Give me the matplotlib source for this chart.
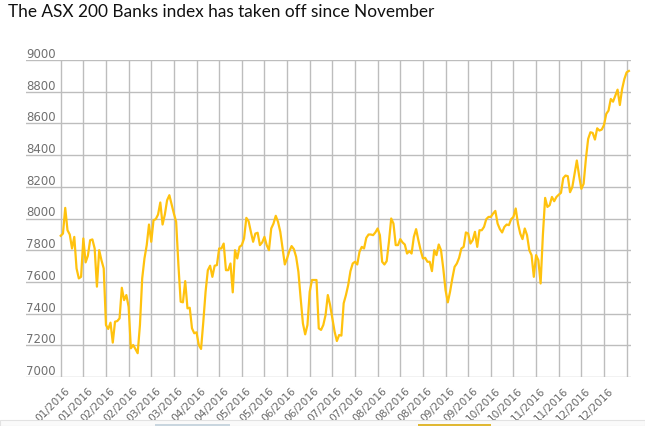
import numpy as np
import matplotlib.pyplot as plt
from matplotlib.transforms import offset_copy
from matplotlib.patches import Rectangle

# ASX 200 Banks index, daily closes 2016
close_jan_apr = [7891, 7905, 8067, 7926, 7899, 7811, 7884, 7685, 7622, 7632,
                 7874, 7723, 7765, 7863, 7868, 7811, 7570, 7800, 7737, 7685,
                 7328, 7303, 7343, 7217, 7349, 7353, 7370, 7563, 7485, 7517,
                 7443, 7181, 7202, 7177, 7150, 7328, 7622, 7748, 7832, 7962,
                 7853, 7989, 7996, 8025, 8101, 7962, 8025, 8115, 8147, 8088,
                 8031, 7979, 7706, 7475, 7471, 7605, 7433, 7437, 7307, 7276,
                 7282, 7202, 7177, 7349, 7538, 7674, 7702, 7632, 7702, 7706,
                 7811, 7811, 7842, 7674, 7674, 7716, 7534, 7800, 7748, 7821,
                 7832, 7874, 8004, 7983]
close_may_aug = [7916, 7853, 7905, 7910, 7832, 7849, 7884, 7832, 7800, 7937,
                 7968, 8017, 7979, 7916, 7811, 7710, 7748, 7794, 7826, 7807,
                 7758, 7664, 7496, 7338, 7269, 7328, 7538, 7612, 7612, 7612,
                 7307, 7297, 7328, 7391, 7517, 7454, 7370, 7286, 7227, 7265,
                 7261, 7465, 7517, 7580, 7668, 7716, 7727, 7710, 7790, 7821,
                 7811, 7878, 7899, 7899, 7895, 7912, 7937, 7895, 7727, 7710,
                 7731, 7853, 8000, 7968, 7832, 7832, 7870, 7849, 7836, 7779,
                 7794, 7779, 7884, 7933, 7863, 7800, 7748, 7752, 7727, 7727,
                 7668, 7800, 7769, 7836, 7800, 7685, 7548, 7471, 7538]
close_sep_nov = [7622, 7695, 7716, 7752, 7811, 7821, 7912, 7905, 7842, 7863,
                 7916, 7821, 7926, 7926, 7947, 7996, 8010, 8010, 8031, 8048,
                 7968, 7933, 7912, 7947, 7962, 7958, 7996, 8010, 8063, 7968,
                 7905, 7870, 7937, 7895, 7800, 7769, 7632, 7769, 7737, 7590,
                 7895, 8130, 8073, 8084, 8136, 8109, 8136]
close_nov_dec = [8150, 8162, 8255, 8271, 8267, 8166, 8198, 8282, 8366, 8271,
                 8187, 8219, 8376, 8502, 8544, 8540, 8498, 8569, 8555, 8561,
                 8590, 8660, 8681, 8754, 8737, 8775, 8813, 8716, 8817, 8880,
                 8922, 8931]

tick_labels = ['01/2016', '01/2016', '02/2016', '02/2016', '03/2016', '03/2016',
               '04/2016', '04/2016', '05/2016', '05/2016', '06/2016', '06/2016',
               '07/2016', '07/2016', '08/2016', '08/2016', '08/2016', '09/2016',
               '09/2016', '10/2016', '10/2016', '11/2016', '11/2016', '12/2016',
               '12/2016']
y_levels = [7000, 7200, 7400, 7600, 7800, 8000, 8200, 8400, 8600, 8800, 9000]

values = np.array(close_jan_apr + close_may_aug + close_sep_nov + close_nov_dec)
x = np.arange(len(values))
ticks = np.arange(0, len(values), 10)

W, H = 645, 427
fig = plt.figure(figsize=(W/100, H/100), dpi=100)
fig.text(8/W, 1 - 4/H, 'The ASX 200 Banks index has taken off since November',
         ha='left', va='top', fontsize=12.4, family='Lato', color='#111111')

ax = fig.add_axes([26/W, 49/H, 605/W, 317/H])
ax.set_xlim(-15.33, 251.93)
ax.set_ylim(7000, 9000)
for s in ax.spines.values():
    s.set_visible(False)
ax.set_xticks([])
ax.set_yticks([])

grid_c = '#bdbdbd'
for v in y_levels:
    ax.axhline(v, color=grid_c, lw=1, zorder=1)
    ax.text(0, v, str(v), transform=offset_copy(ax.get_yaxis_transform(), fig, x=0, y=3, units='dots'),
            ha='left', va='baseline', fontsize=8.5, color='#707070')
ax.vlines(ticks, 7000, 9000, color=grid_c, lw=1, zorder=1)

ax.plot(x, values, color='#FFC20E', lw=1.6, zorder=3, solid_joinstyle='round')

# rotated date labels
for t, lab in zip(ticks, tick_labels):
    ax.text(t, 0, lab, transform=offset_copy(ax.get_xaxis_transform(), fig, x=4, y=-8, units='dots'),
            rotation=45, rotation_mode='anchor', ha='right', va='top',
            fontsize=7.6, color='#666666', clip_on=False)

# strip at the bottom edge
fig.add_artist(Rectangle((0, 0), 1, 6/H, transform=fig.transFigure, facecolor='#fafafa',
                         edgecolor='#e2e2e2', lw=0.8, zorder=10))
fig.add_artist(Rectangle((155/W, 0), 75/W, 2.5/H, transform=fig.transFigure,
                         facecolor='#c9d6df', edgecolor='none', zorder=11))
fig.add_artist(Rectangle((418/W, 0), 73/W, 2.5/H, transform=fig.transFigure,
                         facecolor='#e0b834', edgecolor='none', zorder=11))

fig.savefig('out.png', dpi=100)
